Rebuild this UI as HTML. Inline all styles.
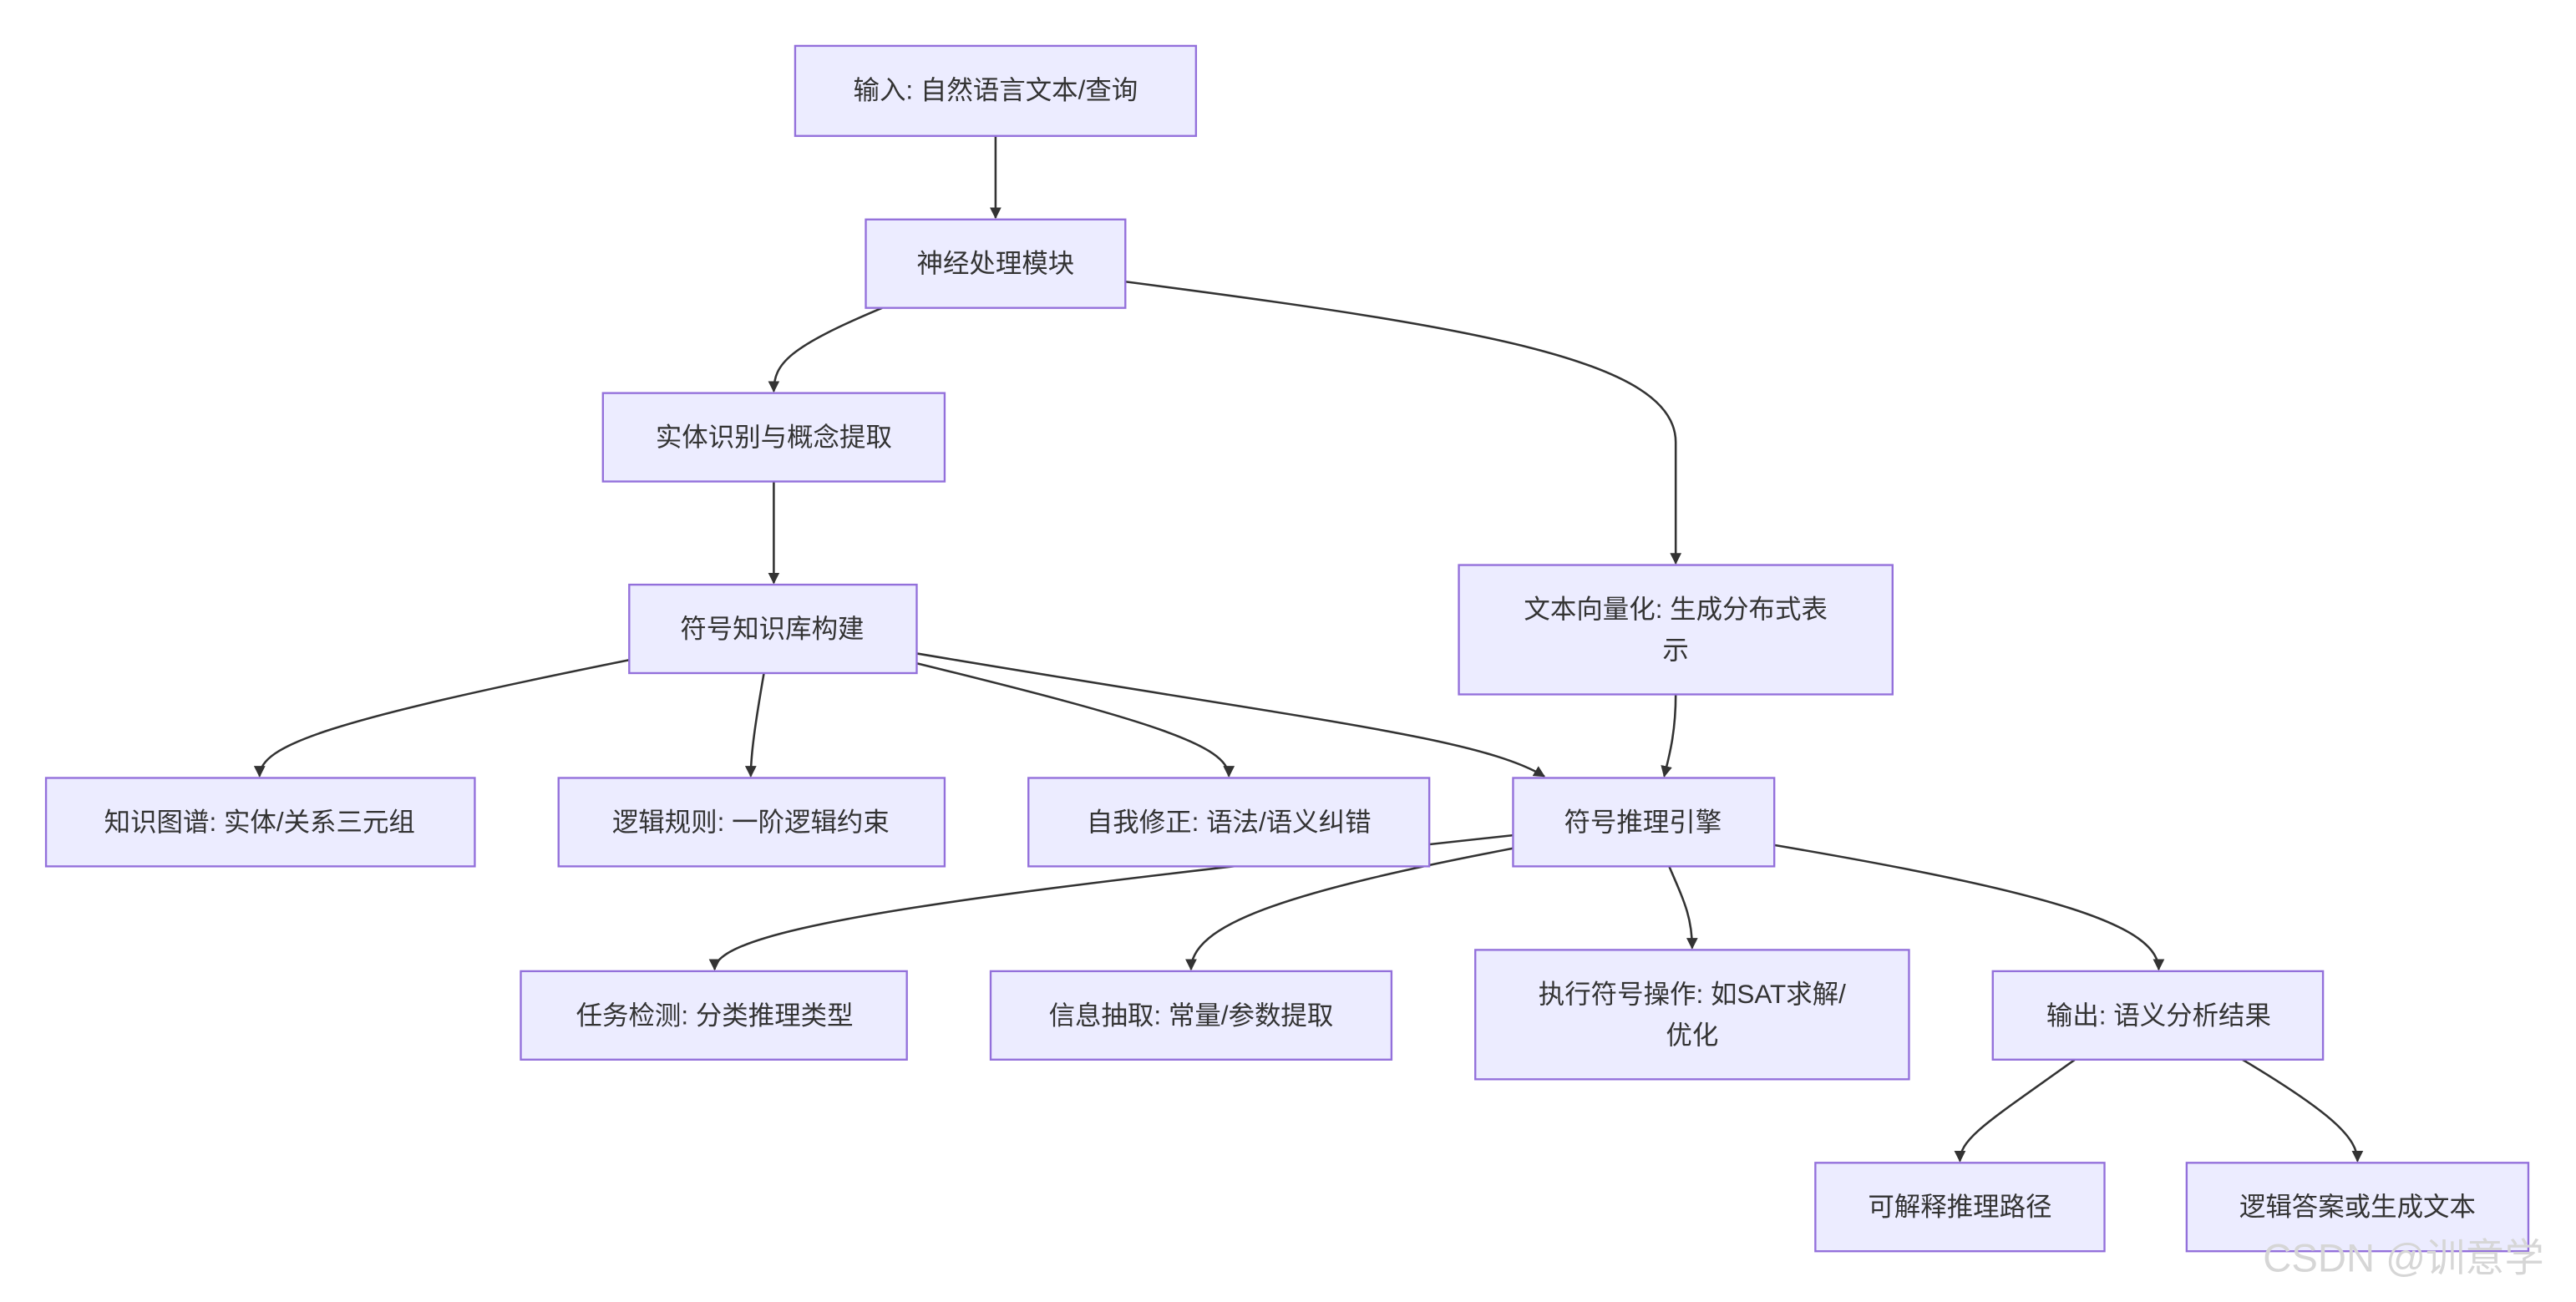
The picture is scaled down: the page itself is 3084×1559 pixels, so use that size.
<!DOCTYPE html>
<html><head><meta charset="utf-8"><style>
html,body{margin:0;padding:0;background:#fff;}
svg{display:block;}
text{font-family:"Liberation Sans","Noto Sans CJK SC",sans-serif;font-size:16px;fill:#333;text-anchor:middle;dominant-baseline:central;}
.n{fill:#ECECFF;stroke:#9370DB;stroke-width:1.2;}
.e{fill:none;stroke:#333;stroke-width:1.3;marker-end:url(#a);}
</style></head><body>
<svg width="3084" height="1559" viewBox="0 0 1568 795" preserveAspectRatio="none" xmlns="http://www.w3.org/2000/svg">
<defs><marker id="a" viewBox="0 0 10 10" refX="9" refY="5" markerWidth="7" markerHeight="7" orient="auto-start-reverse" markerUnits="userSpaceOnUse"><path d="M0,0 L10,5 L0,10 z" fill="#333"/></marker></defs>
<rect width="1568" height="795" fill="#fff"/>
<!-- edges -->
<path class="e" d="M606,83 L606,133"/>
<path class="e" d="M537,188 C480,212 471,222 471,239"/>
<path class="e" d="M685,172 C900,200 1020,220 1020,270 L1020,344"/>
<path class="e" d="M471,294 L471,356"/>
<path class="e" d="M383,403 C200,440 158,455 158,474"/>
<path class="e" d="M465,411 C460,440 457,460 457,474"/>
<path class="e" d="M558,405 C700,440 748,455 748,474"/>
<path class="e" d="M558,399 C800,440 900,450 940,474"/>
<path class="e" d="M1020,424 C1020,450 1015,465 1013,474"/>
<path class="e" d="M921,510 C600,545 435,565 435,592"/>
<path class="e" d="M921,518 C780,545 725,565 725,592"/>
<path class="e" d="M1016,529 C1025,550 1030,560 1030,579"/>
<path class="e" d="M1080,516 C1250,545 1314,565 1314,592"/>
<path class="e" d="M1263,647 C1210,685 1193,695 1193,709"/>
<path class="e" d="M1365,647 C1420,680 1435,695 1435,709"/>
<!-- nodes -->
<rect class="n" x="484" y="28" width="244" height="55"/><text x="606" y="55">输入: 自然语言文本/查询</text>
<rect class="n" x="527" y="134" width="158" height="54"/><text x="606" y="161">神经处理模块</text>
<rect class="n" x="367" y="240" width="208" height="54"/><text x="471" y="267">实体识别与概念提取</text>
<rect class="n" x="383" y="357" width="175" height="54"/><text x="470" y="384">符号知识库构建</text>
<rect class="n" x="888" y="345" width="264" height="79"/><text x="1020" y="372">文本向量化: 生成分布式表</text><text x="1020" y="397">示</text>
<rect class="n" x="28" y="475" width="261" height="54"/><text x="158" y="502">知识图谱: 实体/关系三元组</text>
<rect class="n" x="340" y="475" width="235" height="54"/><text x="457" y="502">逻辑规则: 一阶逻辑约束</text>
<rect class="n" x="626" y="475" width="244" height="54"/><text x="748" y="502">自我修正: 语法/语义纠错</text>
<rect class="n" x="921" y="475" width="159" height="54"/><text x="1000" y="502">符号推理引擎</text>
<rect class="n" x="317" y="593" width="235" height="54"/><text x="435" y="620">任务检测: 分类推理类型</text>
<rect class="n" x="603" y="593" width="244" height="54"/><text x="725" y="620">信息抽取: 常量/参数提取</text>
<rect class="n" x="898" y="580" width="264" height="79"/><text x="1030" y="607">执行符号操作: 如SAT求解/</text><text x="1030" y="632">优化</text>
<rect class="n" x="1213" y="593" width="201" height="54"/><text x="1314" y="620">输出: 语义分析结果</text>
<rect class="n" x="1105" y="710" width="176" height="54"/><text x="1193" y="737">可解释推理路径</text>
<rect class="n" x="1331" y="710" width="208" height="54"/><text x="1435" y="737">逻辑答案或生成文本</text>
<!-- watermark -->
<text x="1463" y="768" style="font-size:24px;fill:#d6d6d6;">CSDN @训意学</text>
</svg>
</body></html>
